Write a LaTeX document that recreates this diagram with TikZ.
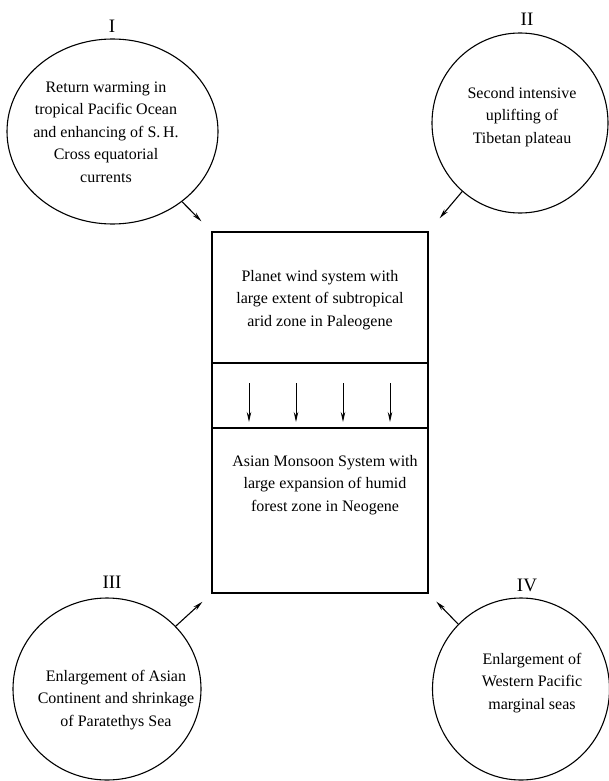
\documentclass[tikz,border=0pt]{standalone}
\usepackage{fontspec}
\setmainfont{Liberation Serif}
\usetikzlibrary{arrows.meta,positioning,shapes.geometric}

\tikzset{
  cause/.style={draw, ellipse, line width=1.1pt, inner sep=0pt},
  causetext/.style={align=center, font=\fontsize{16}{22.5}\selectfont},
  numeral/.style={font=\fontsize{19}{20}\selectfont},
  stage/.style={draw, rectangle, line width=1.2pt, minimum width=216pt, inner sep=0pt, outer sep=0pt},
}

\begin{document}
\begin{tikzpicture}[x=1pt, y=-1pt, >={Stealth[length=10pt,width=4.5pt]}]
	\useasboundingbox (0,0) rectangle (609,781);

	% the four causes
	\node[cause, minimum width=211pt, minimum height=185pt] (c1) at (112.5,131.5) {};
	\node[cause, minimum width=176pt, minimum height=180pt] (c2) at (520,123) {};
	\node[cause, minimum width=188pt, minimum height=182pt] (c3) at (107,689) {};
	\node[cause, minimum width=177pt, minimum height=182pt] (c4) at (521,689) {};

	\node[numeral] (n1) at (112,26) {I};
	\node[numeral] (n2) at (527,19) {II};
	\node[numeral] (n3) at (112,582) {III};
	\node[numeral] (n4) at (527,585) {IV};

	\node[causetext] (t1) at (106,132) {Return warming in\\tropical Pacific Ocean\\and enhancing of S.\,H.\\Cross equatorial\\currents};
	\node[causetext] (t2) at (522,117) {Second intensive\\uplifting of\\Tibetan plateau};
	\node[causetext] (t3) at (116,700) {Enlargement of Asian\\Continent and shrinkage\\of Paratethys Sea};
	\node[causetext] (t4) at (532,683) {Enlargement of\\Western Pacific\\marginal seas};

	% central column
	\node[stage, minimum height=131pt, anchor=north west] (paleo) at (212,232) {};
	\node[stage, minimum height=65pt, below=0pt of paleo] (shift) {};
	\node[stage, minimum height=165pt, below=0pt of shift] (neo) {};

	\node[causetext] (paleotext) at (320,300) {Planet wind system with\\large extent of subtropical\\arid zone in Paleogene};
	\node[causetext] (neotext) at (325,485) {Asian Monsoon System with\\large expansion of humid\\forest zone in Neogene};

	\foreach \dx in {37,84,131,178}
		\draw[line width=1pt, ->] ([xshift=\dx pt, yshift=-20pt]shift.north west) -- ([xshift=\dx pt, yshift=6pt]shift.south west);

	\draw[line width=1.1pt, ->, shorten >=15pt] (c1) -- (paleo.north west);
	\draw[line width=1.1pt, ->, shorten >=18pt] (c2) -- (paleo.north east);
	\draw[line width=1.1pt, ->, shorten >=13pt] (c3) -- (neo.south west);
	\draw[line width=1.1pt, ->, shorten >=12pt] (c4) -- (neo.south east);
\end{tikzpicture}
\end{document}
